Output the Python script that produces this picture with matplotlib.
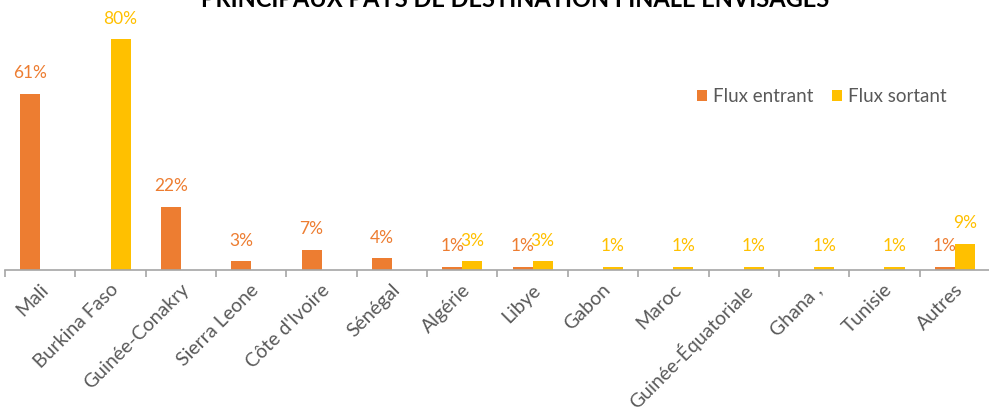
import matplotlib
matplotlib.use("Agg")
import matplotlib.pyplot as plt
import matplotlib.transforms as mtransforms
import numpy as np

# ---------- données ----------
pays = [
    "Mali", "Burkina Faso", "Guinée-Conakry", "Sierra Leone", "Côte d'Ivoire",
    "Sénégal", "Algérie", "Libye", "Gabon", "Maroc", "Guinée-Équatoriale",
    "Ghana ,", "Tunisie", "Autres",
]
flux_entrant = [61, 0, 22, 3, 7, 4, 1, 1, 0, 0, 0, 0, 0, 1]
flux_sortant = [0, 80, 0, 0, 0, 0, 3, 3, 1, 1, 1, 1, 1, 9]

ORANGE = "#ED7D31"
JAUNE = "#FFC000"
GRIS_TXT = "#595959"
GRIS_AXE = "#A6A6A6"

plt.rcParams["font.family"] = ["Lato", "DejaVu Sans"]

fig = plt.figure(figsize=(9.89, 4.11), dpi=100)
ax = fig.add_axes([5 / 989, 141 / 411, 985 / 989, 245 / 411])

x = np.arange(len(pays))
w = 0.285

b1 = ax.bar(x - w / 2, flux_entrant, w, color=ORANGE, label="Flux entrant")
b2 = ax.bar(x + w / 2, flux_sortant, w, color=JAUNE, label="Flux sortant")

# étiquettes de données (on n'affiche pas les zéros)
for bars, vals, col in [(b1, flux_entrant, ORANGE), (b2, flux_sortant, JAUNE)]:
    for rect, v in zip(bars, vals):
        if v == 0:
            continue
        ax.annotate(f"{v}%", (rect.get_x() + rect.get_width() / 2, v),
                    xytext=(0, 15), textcoords="offset points",
                    ha="center", va="center", fontsize=12.5, color=col)

ax.set_xlim(-0.5, len(pays) - 0.5)
ax.set_ylim(0, 85)

for s in ["top", "right", "left"]:
    ax.spines[s].set_visible(False)
ax.spines["bottom"].set_color(GRIS_AXE)
ax.spines["bottom"].set_linewidth(1.2)
ax.set_yticks([])

# graduations entre les catégories
ax.set_xticks(np.arange(len(pays) + 1) - 0.5)
ax.set_xticklabels([])
ax.tick_params(axis="x", length=5, color=GRIS_AXE, width=1.2)

# libellés inclinés
decal = mtransforms.offset_copy(ax.transData, fig=fig, x=5, y=-17, units="dots")
for i, nom in enumerate(pays):
    ax.text(i, 0, nom, transform=decal, rotation=45, rotation_mode="anchor",
            ha="right", va="center", fontsize=14, color=GRIS_TXT, clip_on=False)

ax.legend(loc="upper left", bbox_to_anchor=(675 / 985, 0.81), frameon=False,
          fontsize=13.5, labelcolor=GRIS_TXT, handlelength=0.55, handleheight=0.55,
          handletextpad=0.3, ncol=2, columnspacing=1.0)

fig.text(515 / 989, 1 - 7 / 411, "PRINCIPAUX PAYS DE DESTINATION FINALE ENVISAGES",
         ha="center", va="baseline", fontsize=17, fontweight="bold", color="black")

fig.savefig("out.png", dpi=100)
